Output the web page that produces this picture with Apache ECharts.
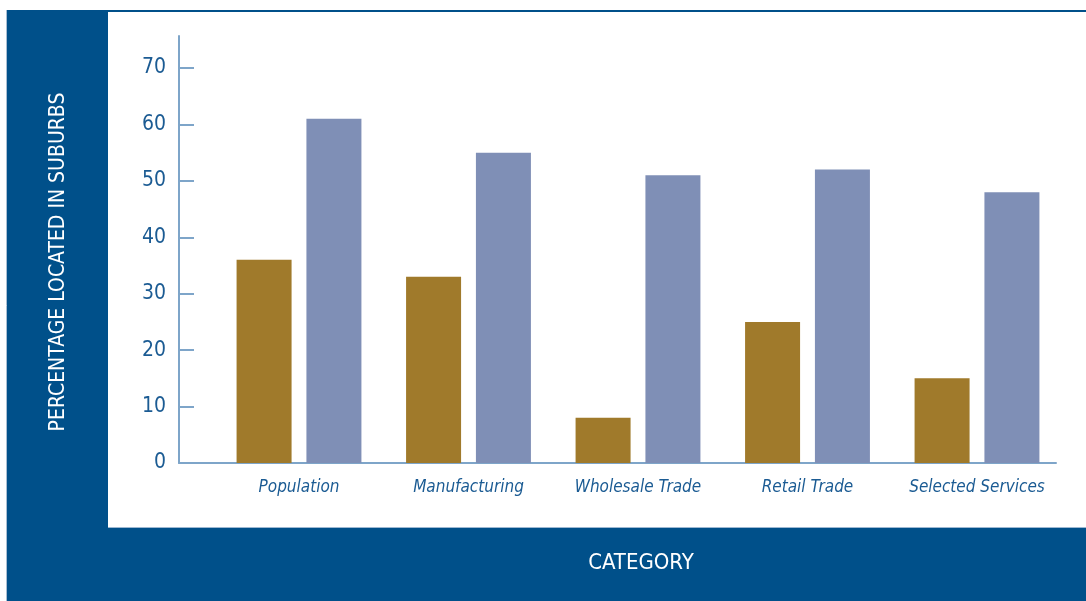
<!DOCTYPE html>
<html>
<head>
<meta charset="utf-8">
<script src="https://cdn.jsdelivr.net/npm/echarts@6/dist/echarts.min.js"></script>
<style>
html,body{margin:0;padding:0;background:#ffffff;}
#chart{width:1086px;height:601px;}
</style>
</head>
<body>
<div id="chart"></div>
<script>
var categories = ['Population', 'Manufacturing', 'Wholesale Trade', 'Retail Trade', 'Selected Services'];
var seriesEarlier = [36, 33, 8, 25, 15];
var seriesLater = [61, 55, 51, 52, 48];
var yTicks = [0, 10, 20, 30, 40, 50, 60, 70];
var yMax = 75.67;

var FRAME = '#00508a';
var AXIS = '#7ea5c9';
var LABEL = '#1b5b93';
var FONT = '"Liberation Sans Narrow", "DejaVu Sans Condensed", sans-serif';

var chart = echarts.init(document.getElementById('chart'));
chart.setOption({
  animation: false,
  backgroundColor: '#ffffff',
  graphic: [
    {type: 'rect', z: -20, shape: {x: 7, y: 10, width: 1079, height: 591}, style: {fill: FRAME}},
    {type: 'line', z: -19, shape: {x1: 6.5, y1: 10, x2: 6.5, y2: 601}, style: {stroke: '#a9bed3', lineWidth: 1}},
    {type: 'rect', z: -18, shape: {x: 108, y: 12, width: 978, height: 515}, style: {fill: '#ffffff'}},
    {type: 'line', z: -17, shape: {x1: 108, y1: 527.5, x2: 1086, y2: 527.5}, style: {stroke: '#9db8d2', lineWidth: 1}},
    {type: 'text', z: 10, x: 59, y: 262, rotation: Math.PI / 2,
      style: {text: 'PERCENTAGE LOCATED IN SUBURBS', fill: '#ffffff', font: '21px ' + FONT, textAlign: 'center', textVerticalAlign: 'middle'}},
    {type: 'text', z: 10, x: 641, y: 563,
      style: {text: 'CATEGORY', fill: '#ffffff', font: '22px ' + FONT, textAlign: 'center', textVerticalAlign: 'middle'}}
  ],
  grid: [
    {left: 179, right: 30, top: 36, bottom: 138},
    {left: 214.25, right: 24.25, top: 36, bottom: 138}
  ],
  xAxis: [
    {type: 'value', gridIndex: 0, min: 0, max: 1,
      axisLine: {show: true, lineStyle: {color: AXIS, width: 2}},
      axisTick: {show: false}, axisLabel: {show: false}, splitLine: {show: false}},
    {type: 'category', gridIndex: 1, data: categories,
      axisLine: {show: false}, axisTick: {show: false}, splitLine: {show: false},
      axisLabel: {interval: 0, color: LABEL, fontFamily: FONT, fontStyle: 'italic', fontSize: 17, margin: 16}}
  ],
  yAxis: [
    {type: 'value', gridIndex: 0, min: 0, max: yMax,
      axisLine: {show: true, lineStyle: {color: AXIS, width: 2}},
      axisTick: {show: true, inside: true, length: 15, customValues: yTicks, lineStyle: {color: AXIS, width: 2}},
      axisLabel: {customValues: yTicks, color: LABEL, fontFamily: FONT, fontSize: 21, margin: 13},
      splitLine: {show: false}},
    {type: 'value', gridIndex: 1, min: 0, max: yMax, show: false, splitLine: {show: false}}
  ],
  series: [
    {name: 'Earlier', type: 'bar', xAxisIndex: 1, yAxisIndex: 1, data: seriesEarlier,
      barWidth: 55, barGap: '27%', itemStyle: {color: '#a07a2b'}},
    {name: 'Later', type: 'bar', xAxisIndex: 1, yAxisIndex: 1, data: seriesLater,
      barWidth: 55, barGap: '27%', itemStyle: {color: '#7f8fb6'}}
  ]
});
</script>
</body>
</html>
